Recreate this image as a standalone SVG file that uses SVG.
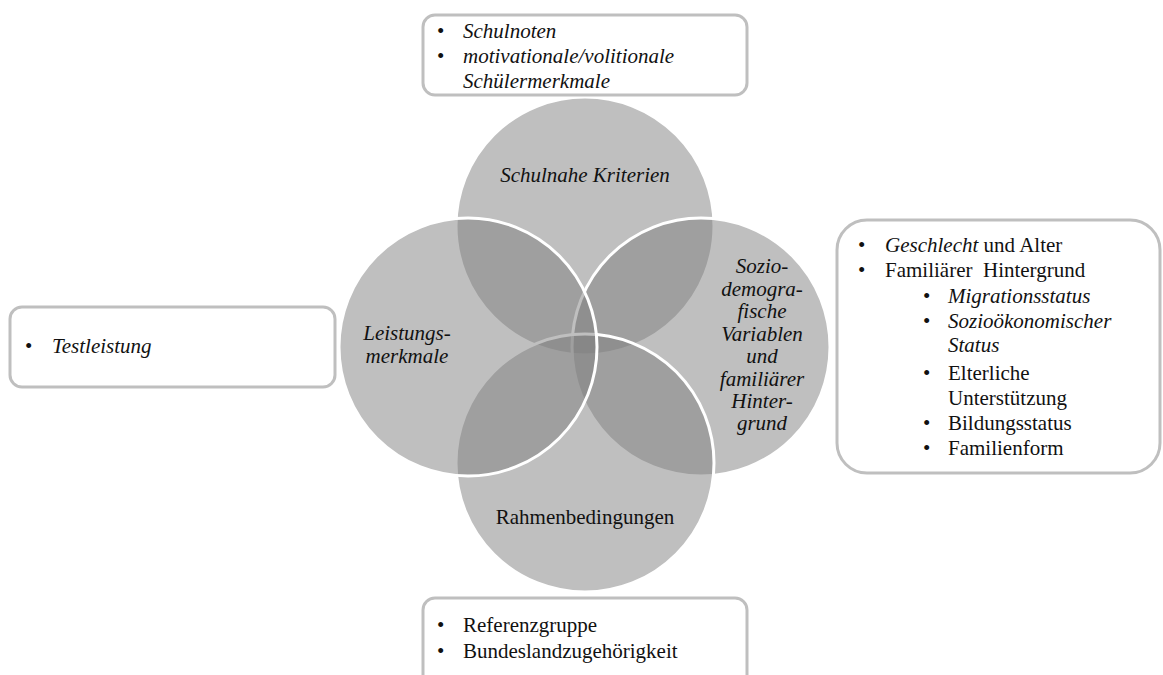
<svg xmlns="http://www.w3.org/2000/svg" width="1163" height="675" viewBox="0 0 1163 675">
  <style>
    .circle { fill: #7f7f7f; fill-opacity: 0.5; stroke: #ffffff; stroke-width: 3; }
    .box { fill: #ffffff; stroke: #bfbfbf; stroke-width: 3; }
    .it { font-style: italic; }
    .mid { text-anchor: middle; }
  </style>
  <rect width="1163" height="675" fill="#ffffff"/>

  <!-- Four overlapping circles, drawn back to front -->
  <g id="circle-schulnah">
    <circle class="circle" cx="585" cy="226" r="129"/>
    <text font-family="'Liberation Serif', 'Times New Roman', serif" font-size="21" class="it mid" x="585" y="182" fill="#111">Schulnahe Kriterien</text>
  </g>
  <g id="circle-sozio">
    <circle class="circle" cx="701" cy="347" r="129"/>
  </g>
  <g id="circle-rahmen">
    <circle class="circle" cx="585" cy="463" r="129"/>
  </g>
  <g id="circle-leistung">
    <circle class="circle" cx="468" cy="347" r="129"/>
  </g>

  <!-- Circle labels kept above all fills -->
  <g id="labels" fill="#111">
    <text font-family="'Liberation Serif', 'Times New Roman', serif" font-size="21" class="it mid" x="407" y="340">Leistungs-</text>
    <text font-family="'Liberation Serif', 'Times New Roman', serif" font-size="21" class="it mid" x="407" y="363">merkmale</text>
    <text font-family="'Liberation Serif', 'Times New Roman', serif" font-size="21" class="it mid" x="762" y="273">Sozio-</text>
    <text font-family="'Liberation Serif', 'Times New Roman', serif" font-size="21" class="it mid" x="762" y="296">demogra-</text>
    <text font-family="'Liberation Serif', 'Times New Roman', serif" font-size="21" class="it mid" x="762" y="318">fische</text>
    <text font-family="'Liberation Serif', 'Times New Roman', serif" font-size="21" class="it mid" x="762" y="341">Variablen</text>
    <text font-family="'Liberation Serif', 'Times New Roman', serif" font-size="21" class="it mid" x="762" y="363">und</text>
    <text font-family="'Liberation Serif', 'Times New Roman', serif" font-size="21" class="it mid" x="762" y="386">familiärer</text>
    <text font-family="'Liberation Serif', 'Times New Roman', serif" font-size="21" class="it mid" x="762" y="408">Hinter-</text>
    <text font-family="'Liberation Serif', 'Times New Roman', serif" font-size="21" class="it mid" x="762" y="430">grund</text>
    <text font-family="'Liberation Serif', 'Times New Roman', serif" font-size="21" class="mid" x="585" y="524">Rahmenbedingungen</text>
  </g>

  <!-- Top box -->
  <g id="box-top" fill="#111">
    <rect class="box" x="423" y="15" width="324" height="80" rx="12"/>
    <text font-family="'Liberation Serif', 'Times New Roman', serif" font-size="21" x="437" y="38">•</text>
    <text font-family="'Liberation Serif', 'Times New Roman', serif" font-size="21" class="it" x="463" y="38">Schulnoten</text>
    <text font-family="'Liberation Serif', 'Times New Roman', serif" font-size="21" x="437" y="63">•</text>
    <text font-family="'Liberation Serif', 'Times New Roman', serif" font-size="21" class="it" x="463" y="63">motivationale/volitionale</text>
    <text font-family="'Liberation Serif', 'Times New Roman', serif" font-size="21" class="it" x="463" y="88">Schülermerkmale</text>
  </g>

  <!-- Left box -->
  <g id="box-left" fill="#111">
    <rect class="box" x="10" y="307" width="325" height="80" rx="12"/>
    <text font-family="'Liberation Serif', 'Times New Roman', serif" font-size="21" x="25" y="353">•</text>
    <text font-family="'Liberation Serif', 'Times New Roman', serif" font-size="21" class="it" x="52" y="353">Testleistung</text>
  </g>

  <!-- Right box -->
  <g id="box-right" fill="#111">
    <rect class="box" x="837" y="220" width="323" height="253" rx="30"/>
    <text font-family="'Liberation Serif', 'Times New Roman', serif" font-size="21" x="858" y="252">•</text>
    <text font-family="'Liberation Serif', 'Times New Roman', serif" font-size="21" x="885" y="252"><tspan class="it">Geschlecht</tspan> und Alter</text>
    <text font-family="'Liberation Serif', 'Times New Roman', serif" font-size="21" x="858" y="277">•</text>
    <text font-family="'Liberation Serif', 'Times New Roman', serif" font-size="21" x="885" y="277">Familiärer&#160; Hintergrund</text>
    <text font-family="'Liberation Serif', 'Times New Roman', serif" font-size="21" x="923" y="303">•</text>
    <text font-family="'Liberation Serif', 'Times New Roman', serif" font-size="21" class="it" x="948" y="303">Migrationsstatus</text>
    <text font-family="'Liberation Serif', 'Times New Roman', serif" font-size="21" x="923" y="328">•</text>
    <text font-family="'Liberation Serif', 'Times New Roman', serif" font-size="21" class="it" x="948" y="328">Sozioökonomischer</text>
    <text font-family="'Liberation Serif', 'Times New Roman', serif" font-size="21" class="it" x="948" y="352">Status</text>
    <text font-family="'Liberation Serif', 'Times New Roman', serif" font-size="21" x="923" y="380">•</text>
    <text font-family="'Liberation Serif', 'Times New Roman', serif" font-size="21" x="948" y="380">Elterliche</text>
    <text font-family="'Liberation Serif', 'Times New Roman', serif" font-size="21" x="948" y="405">Unterstützung</text>
    <text font-family="'Liberation Serif', 'Times New Roman', serif" font-size="21" x="923" y="430">•</text>
    <text font-family="'Liberation Serif', 'Times New Roman', serif" font-size="21" x="948" y="430">Bildungsstatus</text>
    <text font-family="'Liberation Serif', 'Times New Roman', serif" font-size="21" x="923" y="455">•</text>
    <text font-family="'Liberation Serif', 'Times New Roman', serif" font-size="21" x="948" y="455">Familienform</text>
  </g>

  <!-- Bottom box -->
  <g id="box-bottom" fill="#111">
    <rect class="box" x="423" y="598" width="324" height="95" rx="12"/>
    <text font-family="'Liberation Serif', 'Times New Roman', serif" font-size="21" x="437" y="632">•</text>
    <text font-family="'Liberation Serif', 'Times New Roman', serif" font-size="21" x="463" y="632">Referenzgruppe</text>
    <text font-family="'Liberation Serif', 'Times New Roman', serif" font-size="21" x="437" y="658">•</text>
    <text font-family="'Liberation Serif', 'Times New Roman', serif" font-size="21" x="463" y="658">Bundeslandzugehörigkeit</text>
  </g>

  <g id="connectors"/>
</svg>
